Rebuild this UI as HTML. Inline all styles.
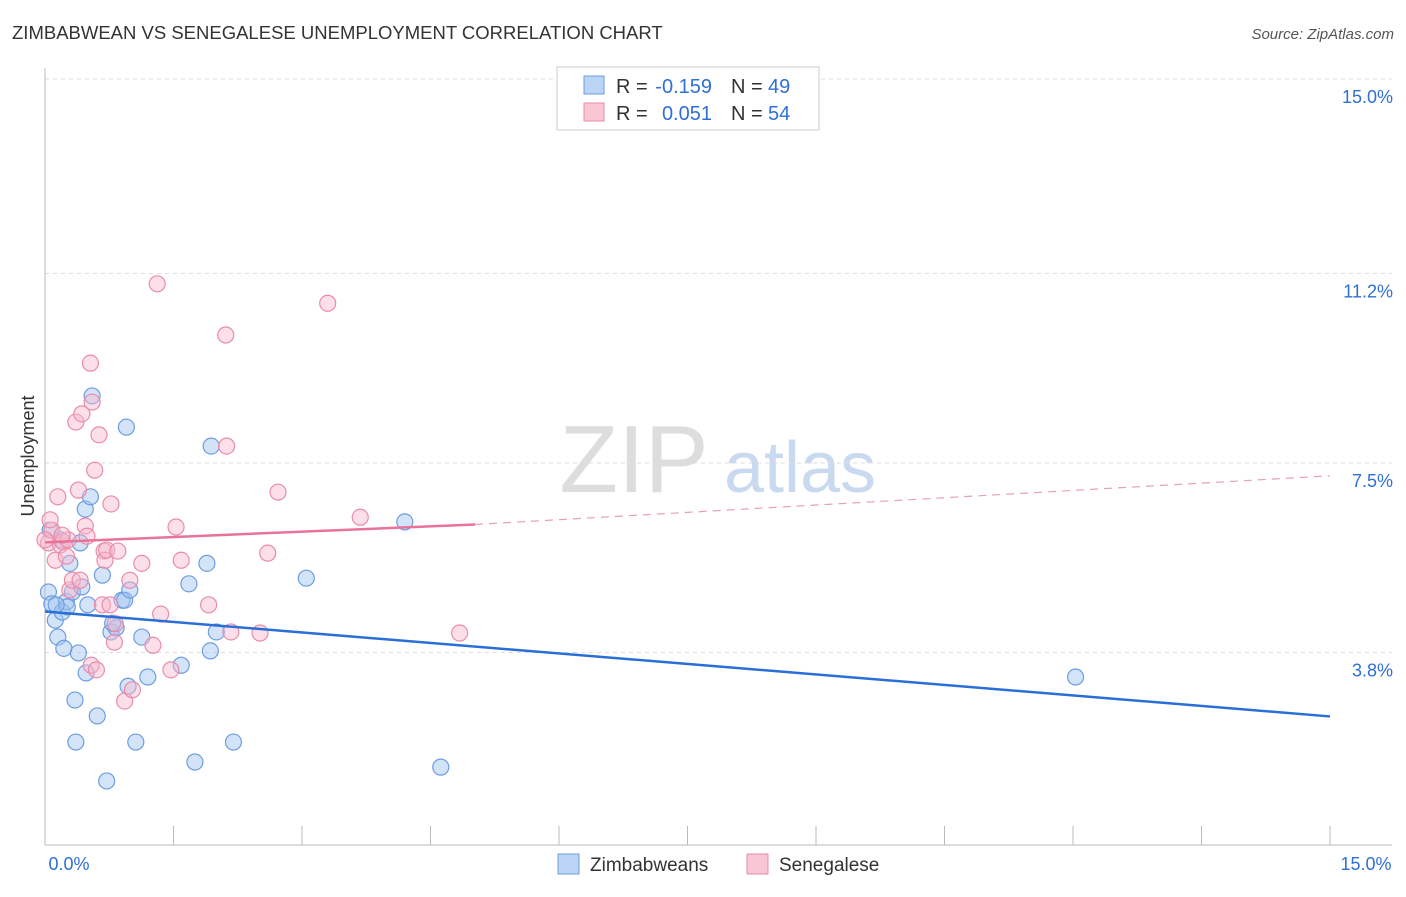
<!DOCTYPE html>
<html><head><meta charset="utf-8"><style>
body{margin:0;background:#fff;font-family:"Liberation Sans",sans-serif}
svg text{font-family:"Liberation Sans",sans-serif}
</style></head><body>
<svg id="c" width="1406" height="892" viewBox="0 0 1406 892" xmlns="http://www.w3.org/2000/svg">
<text x="12" y="39" font-size="18.5" fill="#333">ZIMBABWEAN VS SENEGALESE UNEMPLOYMENT CORRELATION CHART</text>
<text x="1394" y="39" font-size="15" fill="#555" font-style="italic" text-anchor="end">Source: ZipAtlas.com</text>
<text x="634" y="492" font-size="96" fill="#ddd" font-family="Liberation Serif" text-anchor="middle">ZIP</text>
<text x="800" y="492" font-size="72" fill="#c9d9ef" text-anchor="middle">atlas</text>
<text transform="translate(34,456) rotate(-90)" font-size="18" fill="#333" text-anchor="middle">Unemployment</text>
<g id="grid"></g><g id="marks"></g>
<g>
<rect x="557" y="67" width="262" height="63" fill="#fff" stroke="#ccc"/>
<rect x="584" y="76" width="20" height="18" fill="#bcd4f6" stroke="#6d9de0"/>
<rect x="584" y="103" width="20" height="18" fill="#f9c6d4" stroke="#e98cab"/>
<text x="616" y="93" font-size="20" fill="#333">R =</text>
<text x="712" y="93" font-size="20" fill="#2f6fd6" text-anchor="end">-0.159</text>
<text x="731" y="93" font-size="20" fill="#333">N =</text>
<text x="768" y="93" font-size="20" fill="#2f6fd6">49</text>
<text x="616" y="120" font-size="20" fill="#333">R =</text>
<text x="712" y="120" font-size="20" fill="#2f6fd6" text-anchor="end">0.051</text>
<text x="731" y="120" font-size="20" fill="#333">N =</text>
<text x="768" y="120" font-size="20" fill="#2f6fd6">54</text>
</g>
<g>
<rect x="558" y="854" width="21" height="20" fill="#bcd4f6" stroke="#6d9de0"/>
<text x="590" y="871" font-size="19" fill="#333">Zimbabweans</text>
<rect x="747" y="854" width="21" height="20" fill="#f9c6d4" stroke="#e98cab"/>
<text x="779" y="871" font-size="19" fill="#333">Senegalese</text>
</g>
</svg>
<script>
const yTicks=[15.0,11.2,7.5,3.8];
const yTickLabels=["15.0%","11.2%","7.5%","3.8%"];
const blueX=[0.04,0.08,0.12,0.15,0.2,0.22,0.25,0.29,0.32,0.35,0.36,0.39,0.43,0.47,0.48,0.5,0.53,0.55,0.61,0.67,0.72,0.77,0.83,0.9,0.93,0.95,0.97,0.99,1.06,1.13,1.2,1.59,1.68,1.75,1.89,1.93,1.94,2.0,2.2,3.05,4.2,4.62,12.03,0.41,0.18,0.06,0.26,0.79,0.13];
const blueY=[4.98,4.75,4.43,4.1,4.59,3.88,4.79,5.54,4.98,2.87,2.05,3.79,5.08,6.6,3.4,4.73,6.84,8.81,2.56,5.31,1.29,4.2,4.28,4.82,4.82,8.2,3.14,5.02,2.05,4.1,3.32,3.55,5.14,1.66,5.54,3.83,7.83,4.2,2.05,5.25,6.35,1.56,3.32,5.94,6.0,6.19,4.69,4.37,4.73];
const pinkX=[0.04,0.08,0.12,0.15,0.18,0.21,0.25,0.27,0.29,0.32,0.36,0.39,0.41,0.43,0.47,0.49,0.53,0.54,0.55,0.58,0.6,0.63,0.67,0.69,0.7,0.72,0.76,0.77,0.81,0.82,0.85,0.93,0.99,1.02,1.13,1.26,1.31,1.35,1.47,1.53,1.59,1.91,2.11,2.12,2.17,2.51,2.6,2.72,3.3,3.68,4.84,0.06,0.2,0.0];
const pinkY=[5.94,6.19,5.6,6.84,5.9,5.96,5.68,6.0,5.02,5.21,8.3,6.97,5.21,8.46,6.27,6.07,9.45,3.55,8.69,7.36,3.46,8.05,4.73,5.78,5.6,5.8,4.73,6.7,4.0,4.36,5.78,2.85,5.21,3.07,5.54,3.94,11.0,4.55,3.46,6.25,5.6,4.73,10.0,7.83,4.2,4.18,5.74,6.93,10.62,6.44,4.18,6.39,6.09,6.0];
const blueTrend=[4.6,2.55];
const pinkTrend=[5.95,6.3,7.25];
const pinkSolidEnd=5.02;
const X0=45,X1=1330,Y0=847,YS=51.2;
const sx=v=>X0+(v/15)*(X1-X0), sy=v=>Y0-v*YS;
const NS="http://www.w3.org/2000/svg";
const grid=document.getElementById('grid'),marks=document.getElementById('marks');
function mk(p,tag,a){const e=document.createElementNS(NS,tag);for(const k in a)e.setAttribute(k,a[k]);p.appendChild(e);return e;}
yTicks.forEach((t,i)=>{
 const l=mk(grid,'line',{x1:X0,x2:1392,y1:sy(t),y2:sy(t),stroke:'#ddd','stroke-dasharray':'4,4'});
 
 
 const tx=mk(grid,'text',{x:1393,y:sy(t)+24,'font-size':18,fill:'#2f6fd6','text-anchor':'end'});
 tx.textContent=yTickLabels[i];
 
 
});
const ax=mk(grid,'line',{x1:X0,x2:1392,y1:845,y2:845,stroke:'#bbb'});


const ay=mk(grid,'line',{x1:X0,x2:X0,y1:68,y2:845,stroke:'#bbb'});


for(let i=0;i<=10;i++){const t=mk(grid,'line',{x1:sx(i*1.5),x2:sx(i*1.5),y1:826,y2:845,stroke:'#bbb'});
 
 }
[['0.0%',X0+24],['15.0%',1366]].forEach(([s,x])=>{const t=mk(grid,'text',{x:x,y:870,'font-size':18,fill:'#2f6fd6','text-anchor':'middle'});t.textContent=s;
 
 });
blueX.forEach((v,i)=>{const c=mk(marks,'circle',{cx:sx(v),cy:sy(blueY[i]),r:8,fill:'rgba(160,195,240,0.45)',stroke:'#6d9de0','stroke-width':1.2});
 
 });
pinkX.forEach((v,i)=>{const c=mk(marks,'circle',{cx:sx(v),cy:sy(pinkY[i]),r:8,fill:'rgba(248,185,205,0.45)',stroke:'#e98cab','stroke-width':1.2});
 
 });
const bl=mk(marks,'line',{x1:sx(0),y1:sy(blueTrend[0]),x2:sx(15),y2:sy(blueTrend[1]),stroke:'#2a6ed8','stroke-width':2.5});


const pl=mk(marks,'line',{x1:sx(0),y1:sy(pinkTrend[0]),x2:sx(pinkSolidEnd),y2:sy(pinkTrend[1]),stroke:'#e8729a','stroke-width':2.5});


const pd=mk(marks,'line',{x1:sx(pinkSolidEnd),y1:sy(pinkTrend[1]),x2:sx(15),y2:sy(pinkTrend[2]),stroke:'#e8a0b8','stroke-width':1.2,'stroke-dasharray':'8,6'});


</script>
</body></html>
